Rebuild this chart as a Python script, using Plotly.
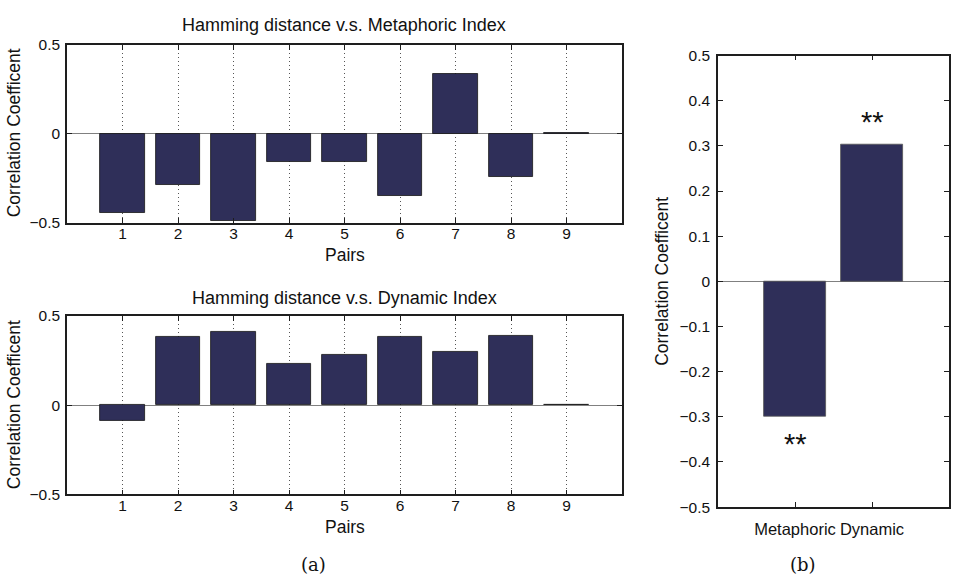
import plotly.graph_objects as go

W, H = 958, 586

# ---- data ----
pairs = [1, 2, 3, 4, 5, 6, 7, 8, 9]
metaphoric_corr = [-0.443, -0.288, -0.491, -0.157, -0.157, -0.352, 0.336, -0.241, 0.003]
dynamic_corr = [-0.085, 0.382, 0.409, 0.230, 0.279, 0.382, 0.299, 0.388, 0.003]
summary_labels = ["Metaphoric", "Dynamic"]
summary_pos = [1, 2]
summary_corr = [-0.300, 0.302]
summary_sig = ["**", "**"]
left_yticks = [-0.5, 0, 0.5]
right_yticks = [-0.5, -0.4, -0.3, -0.2, -0.1, 0, 0.1, 0.2, 0.3, 0.4, 0.5]

title_top = "Hamming distance v.s. Metaphoric Index"
title_bottom = "Hamming distance v.s. Dynamic Index"
ylabel = "Correlation Coefficent"
xlabel = "Pairs"

BAR = "#2f2f59"
EDGE = "#151515"
AX = "#1e1e1e"
FONT = "Liberation Sans, Arial, Helvetica, sans-serif"
SERIF = "DejaVu Serif, Liberation Serif, serif"


def fmt(v):
    if abs(v) < 1e-9:
        return "0"
    s = f"{abs(v):.1f}"
    return ("\u2212" + s) if v < 0 else s


def px_x(p):
    return p / W


def px_y(p):
    return 1 - p / H


fig = go.Figure()

fig.add_trace(go.Bar(x=pairs, y=metaphoric_corr, width=0.8, xaxis="x", yaxis="y",
                     marker=dict(color=BAR, line=dict(color=EDGE, width=0.8)), showlegend=False))
fig.add_trace(go.Bar(x=pairs, y=dynamic_corr, width=0.8, xaxis="x2", yaxis="y2",
                     marker=dict(color=BAR, line=dict(color=EDGE, width=0.8)), showlegend=False))
fig.add_trace(go.Bar(x=summary_pos, y=summary_corr, width=0.8, xaxis="x3", yaxis="y3",
                     marker=dict(color=BAR, line=dict(color="#555", width=0.8)), showlegend=False))

tickfont = dict(family=FONT, size=15.5, color="#111")


def left_x(anchor, dom):
    return dict(domain=dom, anchor=anchor, range=[0, 10], tickvals=pairs,
                ticks="inside", ticklen=5, tickcolor=AX, mirror="ticks",
                showline=True, linecolor=AX, linewidth=1.5,
                showgrid=True, griddash="1px,3px", gridcolor="#555", gridwidth=1,
                zeroline=False, tickfont=tickfont, ticklabelstandoff=-4)


def left_y(anchor, dom):
    return dict(domain=dom, anchor=anchor, range=[-0.5, 0.5], tickvals=left_yticks,
                ticktext=[fmt(v) for v in left_yticks],
                ticks="inside", ticklen=5, tickcolor=AX, mirror="ticks",
                showline=True, linecolor=AX, linewidth=1.5, showgrid=False,
                zeroline=True, zerolinecolor="#808080", zerolinewidth=1.2,
                tickfont=tickfont, ticklabelstandoff=2)


xdom = [px_x(67), px_x(622)]
fig.update_layout(
    width=W, height=H,
    margin=dict(l=0, r=0, t=0, b=0),
    paper_bgcolor="white", plot_bgcolor="white",
    bargap=0,
    xaxis=left_x("y", xdom),
    yaxis=left_y("x", [px_y(220), px_y(37)]),
    xaxis2=left_x("y2", xdom),
    yaxis2=left_y("x2", [px_y(500), px_y(316)]),
    xaxis3=dict(domain=[px_x(718), px_x(949)], anchor="y3", range=[0, 3],
                tickvals=summary_pos, ticktext=summary_labels, tickangle=0,
                ticks="inside", ticklen=5, tickcolor=AX, mirror="ticks",
                showline=True, linecolor=AX, linewidth=1.5, showgrid=False, zeroline=False,
                tickfont=dict(family=FONT, size=16.5, color="#111"), ticklabelstandoff=6),
    yaxis3=dict(domain=[px_y(513), px_y(48)], anchor="x3", range=[-0.5, 0.5],
                tickvals=right_yticks, ticktext=[fmt(v) for v in right_yticks],
                ticks="inside", ticklen=5, tickcolor=AX, mirror="ticks",
                showline=True, linecolor=AX, linewidth=1.5, showgrid=False,
                zeroline=True, zerolinecolor="#808080", zerolinewidth=1.2,
                tickfont=dict(family=FONT, size=15.5, color="#111"), ticklabelstandoff=3),
)

ann = []


def txt(text, x, y, size, family=FONT, angle=0):
    ann.append(dict(text=text, x=px_x(x), y=px_y(y), xref="paper", yref="paper",
                    xanchor="center", yanchor="middle", showarrow=False, textangle=angle,
                    font=dict(family=family, size=size, color="#111")))


txt(title_top, 344, 16, 18)
txt(title_bottom, 344, 298, 18)
txt(xlabel, 345, 253, 17.5)
txt(xlabel, 345, 533, 17.5)
txt(ylabel, 14, 128, 17.5, angle=-90)
txt(ylabel, 14, 408, 17.5, angle=-90)
txt(ylabel, 662, 281, 17.5, angle=-90)
txt("(a)", 313, 572, 18, family=SERIF)
txt("(b)", 803, 572, 18, family=SERIF)

for xp, v, s in zip(summary_pos, summary_corr, summary_sig):
    off = 0.05 if v > 0 else -0.06
    ann.append(dict(text=s, x=xp, y=v + off, xref="x3", yref="y3", showarrow=False,
                    xanchor="center", yanchor="middle",
                    font=dict(family=FONT, size=29, color="#111")))

fig.update_layout(annotations=ann)
fig.write_html("out.html")
